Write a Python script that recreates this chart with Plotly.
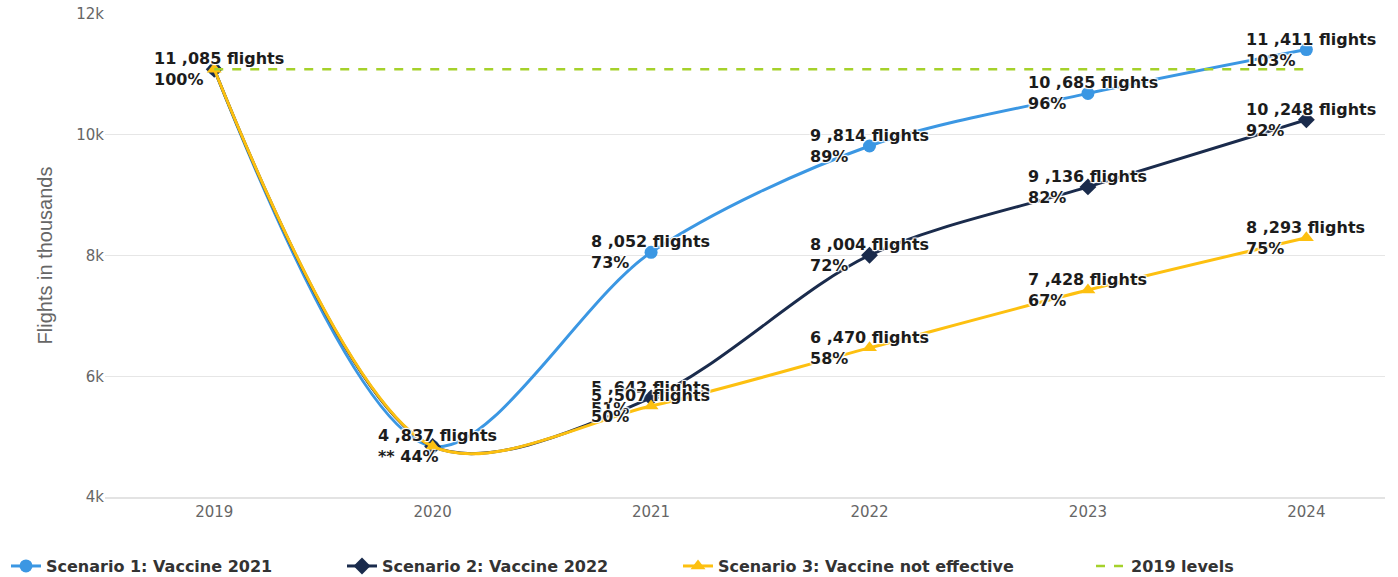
import plotly.graph_objects as go

years = [2019, 2020, 2021, 2022, 2023, 2024]
scenario1 = [11085, 4837, 8052, 9814, 10685, 11411]
scenario2 = [11085, 4837, 5642, 8004, 9136, 10248]
scenario3 = [11085, 4837, 5507, 6470, 7428, 8293]
baseline_2019 = 11085
series_names = ["Scenario 1: Vaccine 2021", "Scenario 2: Vaccine 2022",
                "Scenario 3: Vaccine not effective", "2019 levels"]
colors = ["#3b97e3", "#1a2b4c", "#fdc010", "#a5d12b"]
symbols = ["circle", "diamond", "triangle-up"]
tick_vals = [4000, 6000, 8000, 10000, 12000]
tick_text = ["4k", "6k", "8k", "10k", "12k"]
year_labels = ["2019", "2020", "2021", "2022", "2023", "2024"]

fig = go.Figure()
for vals, name, col, sym in zip([scenario1, scenario2, scenario3], series_names[:3], colors[:3], symbols):
    fig.add_trace(go.Scatter(
        x=years, y=vals, name=name, mode="lines+markers",
        line=dict(color=col, width=3, shape="spline", smoothing=0.9),
        marker=dict(symbol=sym, size=13, color=col),
    ))
fig.add_trace(go.Scatter(
    x=[years[0], years[-1]], y=[baseline_2019] * 2, name=series_names[3], mode="lines",
    line=dict(color=colors[3], width=2.5, dash="dash"), legend="legend2",
))


def label(v, pct_prefix=""):
    pct = round(v / baseline_2019 * 100)
    return f"{v // 1000} ,{v % 1000:03d} flights<br>{pct_prefix}{pct}%"


shadow = "1px 1px 1px #fff, -1px -1px 1px #fff, 1px -1px 1px #fff, -1px 1px 1px #fff"
ann = []
points = []
points.append((years[0], scenario1[0], label(scenario1[0]), -62))
points.append((years[1], scenario1[1], label(scenario1[1], "** "), -57))
for series in [scenario2, scenario1, scenario3]:
    for x, v in zip(years[2:], series[2:]):
        points.append((x, v, label(v), -62))
for x, v, t, sh in points:
    ann.append(dict(x=x, y=v, text=t, showarrow=False, xanchor="left", yanchor="middle",
                    align="left", xshift=sh,
                    font=dict(family="DejaVu Sans", size=16, color="#1c1c1c", weight="bold",
                              shadow=shadow)))

legend_font = dict(family="DejaVu Sans", size=16, color="#333333", weight="bold")
W, H = 1398, 577
fig.update_layout(
    width=W, height=H,
    margin=dict(l=105, r=13, t=14, b=80, autoexpand=False),
    paper_bgcolor="white", plot_bgcolor="white",
    annotations=ann,
    showlegend=True,
    legend=dict(orientation="h", x=(6 - 105) / 1280, xanchor="left", y=-0.143, yanchor="middle",
                font=legend_font, itemwidth=30, entrywidth=291, entrywidthmode="pixels"),
    legend2=dict(orientation="h", x=(1131 - 40 - 105) / 1280, xanchor="left", y=-0.143,
                 yanchor="middle", font=legend_font, itemwidth=30),
    xaxis=dict(range=[2018.5, 2024.36], tickvals=years, ticktext=year_labels,
               showgrid=False, zeroline=False, showline=True, linecolor="#e3e3e3", linewidth=2,
               tickfont=dict(family="DejaVu Sans", size=15, color="#666666")),
    yaxis=dict(range=[4000, 12000], tickvals=tick_vals, ticktext=tick_text,
               showgrid=True, gridcolor="#e6e6e6", gridwidth=1, zeroline=False,
               ticklabeloverflow="allow",
               tickfont=dict(family="DejaVu Sans", size=15, color="#666666"),
               title=dict(text="Flights in thousands", standoff=18,
                          font=dict(family="Liberation Sans", size=20, color="#666666"))),
)

fig.write_html("out.html", config={"displayModeBar": False},
               post_script="document.body.style.margin='0';")
